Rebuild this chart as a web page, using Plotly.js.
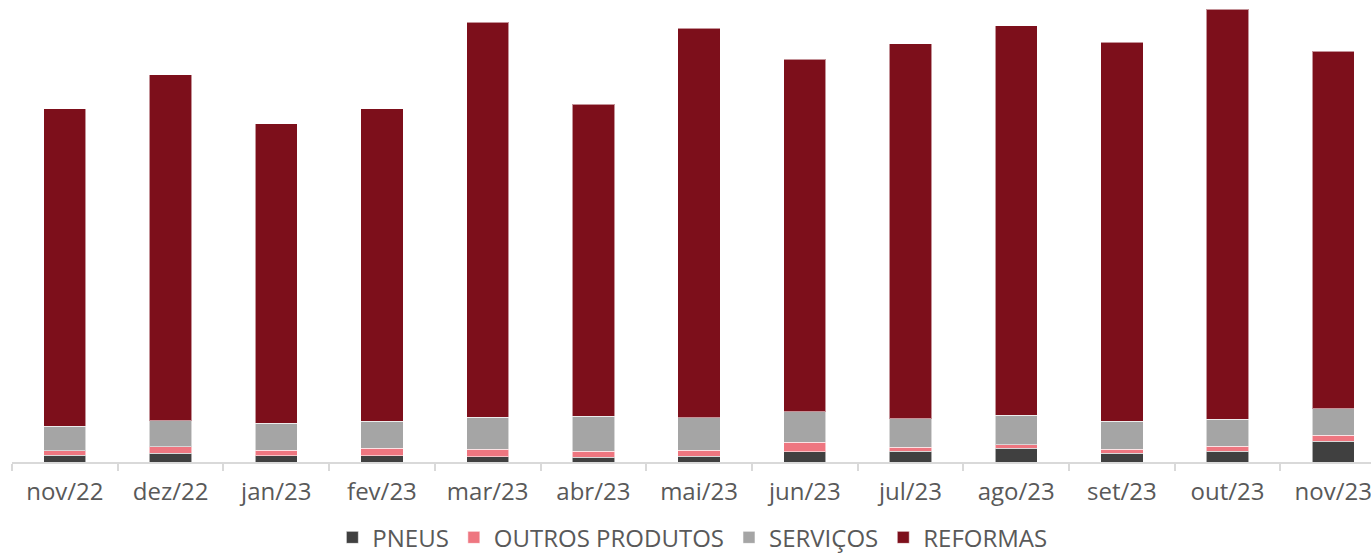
<!DOCTYPE html>
<html>
<head>
<meta charset="utf-8">
<script src="https://cdn.plot.ly/plotly-3.0.1.min.js"></script>
<style>html,body{margin:0;padding:0;background:#fff;}#chart{width:1371px;height:553px;}</style>
</head>
<body>
<div id="chart"></div>
<script>
const categories = ["nov/22","dez/22","jan/23","fev/23","mar/23","abr/23","mai/23","jun/23","jul/23","ago/23","set/23","out/23","nov/23"];
const pneus    = [6.6, 9.0, 6.3, 6.3, 5.3, 4.6, 5.6, 10.3, 10.6, 13.6, 9.0, 10.6, 21.0];
const outros   = [4.7, 6.3, 5.3, 7.3, 7.3, 6.0, 6.0, 9.3, 4.4, 3.7, 4.0, 5.0, 6.0];
const servicos = [24.3, 26.0, 27.4, 27.0, 32.0, 35.4, 32.7, 30.7, 28.3, 29.3, 28.0, 27.0, 26.3];
const reformas = [317.7, 346.0, 299.3, 312.7, 395.0, 312.0, 389.3, 352.7, 375.0, 389.7, 378.6, 410.4, 357.7];

const seriesNames = ["PNEUS","OUTROS PRODUTOS","SERVIÇOS","REFORMAS"];
const seriesColors = ["#404040","#ee7680","#a5a5a5","#7d0f1b"];
const seriesValues = [pneus, outros, servicos, reformas];

const traces = seriesValues.map((vals, i) => ({
  type: "bar",
  name: seriesNames[i],
  x: categories,
  y: vals,
  marker: {color: seriesColors[i], line: {color: "rgba(255,255,255,0.55)", width: 1}},
  hoverinfo: "skip"
}));

const layout = {
  width: 1371,
  height: 553,
  barmode: "stack",
  bargap: 0.6,
  margin: {l: 12, r: 0, t: 0, b: 91, pad: 0, autoexpand: false},
  paper_bgcolor: "#ffffff",
  plot_bgcolor: "#ffffff",
  font: {family: "Open Sans, sans-serif", color: "#595959"},
  xaxis: {
    type: "category",
    range: [-0.5, 12.357],
    showline: true,
    linecolor: "#d9d9d9",
    linewidth: 2,
    ticks: "outside",
    tickson: "boundaries",
    ticklen: 7,
    tickcolor: "#d9d9d9",
    tickwidth: 2,
    ticklabelstandoff: 7,
    tickfont: {size: 24, color: "#595959"},
    showgrid: false,
    zeroline: false,
    fixedrange: true
  },
  yaxis: {
    range: [0, 462],
    visible: false,
    showgrid: false,
    zeroline: false,
    fixedrange: true
  },
  showlegend: true,
  legend: {
    orientation: "h",
    xref: "container",
    x: 0.505,
    xanchor: "center",
    yref: "paper",
    y: -0.164,
    yanchor: "middle",
    font: {size: 24, color: "#595959"},
    traceorder: "normal",
    itemwidth: 30
  }
};

Plotly.newPlot("chart", traces, layout, {displayModeBar: false, staticPlot: true});
</script>
</body>
</html>
